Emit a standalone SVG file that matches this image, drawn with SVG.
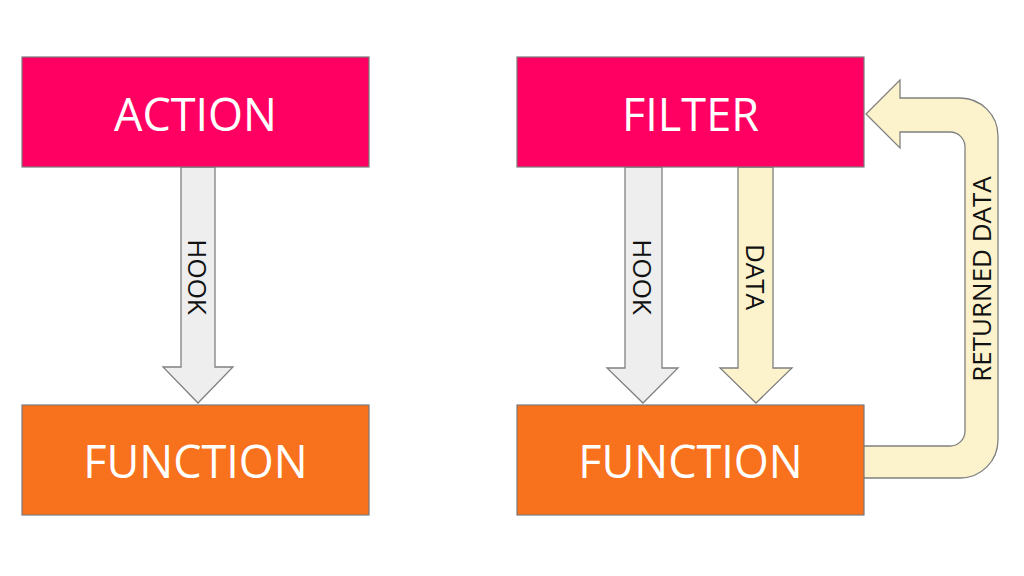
<svg xmlns="http://www.w3.org/2000/svg" width="1024" height="576" viewBox="0 0 1024 576">
<style>
.box{stroke:#7a7a7a;stroke-width:1.2}
.pink{fill:#FF0062}
.orange{fill:#F8711C}
.title{font-family:"Open Sans","Noto Sans",sans-serif;font-size:45px;fill:#ffffff;text-anchor:middle;dominant-baseline:central}
.gray{fill:#EEEEEE;stroke:#808080;stroke-width:1.3}
.cream{fill:#FCF2CC;stroke:#808080;stroke-width:1.3}
.lbl{font-family:"Open Sans","Noto Sans",sans-serif;font-size:26px;fill:#111111;text-anchor:middle;dominant-baseline:central}
</style>
<rect width="1024" height="576" fill="#ffffff"/>
<g id="connectors">
  <g id="hook-left">
    <path class="gray" d="M181 167 L215 167 L215 367 L233 367 L198 403 L163 367 L181 367 Z"/>
    <text class="lbl" transform="translate(198,277) rotate(90)">HOOK</text>
  </g>
  <g id="hook-right">
    <path class="gray" d="M625 167 L662 167 L662 368 L678 368 L643 403 L607 368 L625 368 Z"/>
    <text class="lbl" transform="translate(643,277) rotate(90)">HOOK</text>
  </g>
  <g id="data">
    <path class="cream" d="M738 167 L773 167 L773 368 L792 368 L756 403 L720 368 L738 368 Z"/>
    <text class="lbl" transform="translate(756,277) rotate(90)">DATA</text>
  </g>
  <g id="returned-data">
    <path class="cream" d="M860 446 L950 446 A15 15 0 0 0 965 431 L965 147 A15 15 0 0 0 950 132 L900 132 L900 148 L866 114 L900 80 L900 98 L960 98 A38 38 0 0 1 998 136 L998 440 A38 38 0 0 1 960 478 L860 478 Z"/>
    <text class="lbl" transform="translate(981,279) rotate(-90)">RETURNED DATA</text>
  </g>
</g>
<g id="node-action">
  <rect class="box pink" x="22" y="57" width="347" height="110"/>
  <text class="title" x="195.5" y="113">ACTION</text>
</g>
<g id="node-function-left">
  <rect class="box orange" x="22" y="405" width="347" height="110"/>
  <text class="title" x="195.5" y="460">FUNCTION</text>
</g>
<g id="node-filter">
  <rect class="box pink" x="517" y="57" width="347" height="110"/>
  <text class="title" x="690.5" y="113">FILTER</text>
</g>
<g id="node-function-right">
  <rect class="box orange" x="517" y="405" width="347" height="110"/>
  <text class="title" x="690.5" y="460">FUNCTION</text>
</g>
</svg>
